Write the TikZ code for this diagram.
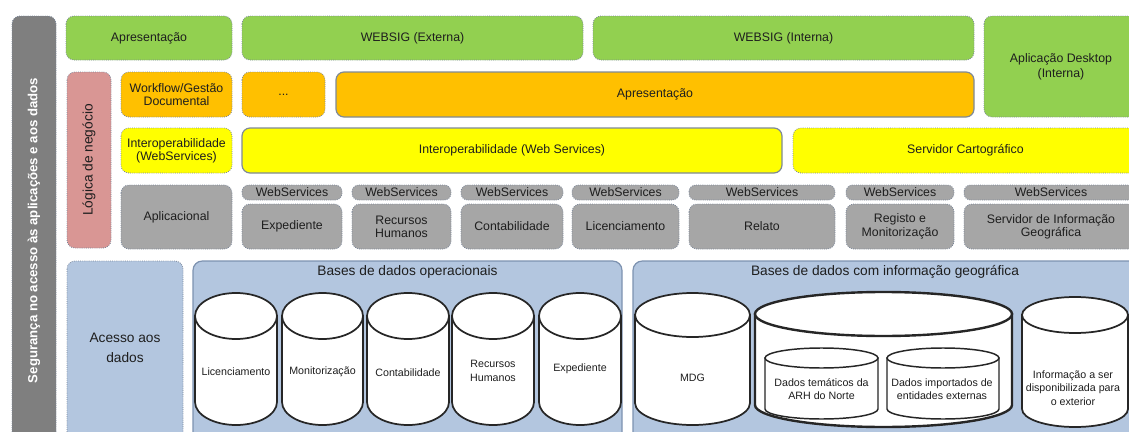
\documentclass[tikz,border=0pt]{standalone}
\usepackage{fontspec}
\setmainfont{Liberation Sans}
\usepackage{tikz}

\definecolor{grnfill}{HTML}{92D050}
\definecolor{orgfill}{HTML}{FFC000}
\definecolor{ylwfill}{HTML}{FFFF00}
\definecolor{gryfill}{HTML}{A6A6A6}
\definecolor{darkbar}{HTML}{7F7F7F}
\definecolor{pinkfill}{HTML}{D99694}
\definecolor{bluefill}{HTML}{B3C6DF}
\definecolor{blueline}{HTML}{7D92B0}
\definecolor{dotline}{HTML}{7A8699}
\definecolor{solidline}{HTML}{7F8A96}
\definecolor{txt}{HTML}{1E1E1E}
\definecolor{cylline}{HTML}{262626}

\tikzset{
  blk/.style={draw=dotline, densely dotted, line width=0.6pt, rounded corners=6pt},
  solidblk/.style={draw=solidline, solid, line width=0.9pt, rounded corners=6pt},
  pill/.style={blk, fill=gryfill, rounded corners=5pt},
  lbl/.style={font=\fontsize{9.25}{10}\selectfont, text=txt, align=center, inner sep=0pt},
  biglbl/.style={font=\fontsize{10.3}{15}\selectfont, text=txt, align=center, inner sep=0pt},
  small/.style={font=\fontsize{8}{10}\selectfont, text=txt, align=center, inner sep=0pt},
  cyl/.style={draw=cylline, fill=white, line width=1.3pt},
  bigcyl/.style={draw=cylline, fill=white, line width=1.8pt},
  innercyl/.style={draw=cylline, fill=white, line width=1.1pt}
}

\begin{document}
\begin{tikzpicture}[x=0.75pt, y=-0.75pt]
\useasboundingbox (0,0) rectangle (1129,432);
\clip (0,0) rectangle (1129,432);

% seguranca
\draw[blk, fill=darkbar] (12,16) rectangle (56,445) node[midway, rotate=90, font=\fontsize{9.9}{12}\bfseries, text=white] (seg) {Segurança no acesso às aplicações e aos dados};

% apresentacao
\draw[blk, fill=grnfill] (66,16) rectangle (232,60) node[midway, lbl] (apres) {Apresentação};
\draw[blk, fill=grnfill] (242,16) rectangle (583,60) node[midway, lbl] (wsExt) {WEBSIG (Externa)};
\draw[blk, fill=grnfill] (593,16) rectangle (974,60) node[midway, lbl] (wsInt) {WEBSIG (Interna)};
\draw[blk, fill=grnfill] (984,16) rectangle (1138,117) node[midway, lbl, font=\fontsize{9.25}{11.5}\selectfont] (desk) {Aplicação Desktop\\(Interna)};

% logica de negocio
\draw[blk, fill=pinkfill] (67,72) rectangle (111,248) node[midway, rotate=90, biglbl] (logica) {Lógica de negócio};
\draw[blk, fill=orgfill] (121,72) rectangle (232,117) node[midway, lbl] (workflow) {Workflow/Gestão\\Documental};
\draw[blk, fill=orgfill] (242,72) rectangle (325,117) node[midway, lbl] (dots) {...};
\draw[solidblk, fill=orgfill] (336,72) rectangle (974,117) node[midway, lbl] (apresB) {Apresentação};

\draw[blk, fill=ylwfill] (121,128) rectangle (232,173) node[midway, lbl] (interopA) {Interoperabilidade\\(WebServices)};
\draw[solidblk, fill=ylwfill] (242,128) rectangle (782,173) node[midway, lbl] (interopB) {Interoperabilidade (Web Services)};
\draw[blk, fill=ylwfill] (793,128) rectangle (1138,173) node[midway, lbl] (servCart) {Servidor Cartográfico};

\draw[blk, fill=gryfill] (121,185) rectangle (232,249) node[midway, lbl] (aplic) {Aplicacional};

\draw[pill] (242,185) rectangle (342,200) node[midway, lbl] (wsA) {WebServices};
\draw[pill] (352,185) rectangle (451,200) node[midway, lbl] (wsB) {WebServices};
\draw[pill] (461,185) rectangle (563,200) node[midway, lbl] (wsC) {WebServices};
\draw[pill] (572,185) rectangle (679,200) node[midway, lbl] (wsD) {WebServices};
\draw[pill] (689,185) rectangle (835,200) node[midway, lbl] (wsE) {WebServices};
\draw[pill] (846,185) rectangle (954,200) node[midway, lbl] (wsF) {WebServices};
\draw[pill] (964,185) rectangle (1138,200) node[midway, lbl] (wsG) {WebServices};

\draw[blk, fill=gryfill] (242,204) rectangle (342,249) node[midway, lbl] (expA) {Expediente};
\draw[blk, fill=gryfill] (352,204) rectangle (451,249) node[midway, lbl] (rhA) {Recursos\\Humanos};
\draw[blk, fill=gryfill] (461,204) rectangle (563,249) node[midway, lbl] (contA) {Contabilidade};
\draw[blk, fill=gryfill] (572,204) rectangle (679,249) node[midway, lbl] (licA) {Licenciamento};
\draw[blk, fill=gryfill] (689,204) rectangle (835,249) node[midway, lbl] (relato) {Relato};
\draw[blk, fill=gryfill] (846,204) rectangle (954,249) node[midway, lbl] (registo) {Registo e\\Monitorização};
\draw[blk, fill=gryfill] (964,204) rectangle (1138,249) node[midway, lbl] (sig) {Servidor de Informação\\Geográfica};

% dados
\draw[blk, fill=bluefill] (67,261) rectangle (183,445);
\node[biglbl] (acesso) at (125,348) {Acesso aos\\dados};
\draw[draw=blueline, line width=0.9pt, rounded corners=7pt, fill=bluefill] (193,261) rectangle (622,445);
\node[biglbl] (opsTitle) at (407.5,272) {Bases de dados operacionais};
\draw[draw=blueline, line width=0.9pt, rounded corners=7pt, fill=bluefill] (633,261) rectangle (1138,445);
\node[biglbl] (geoTitle) at (885,272) {Bases de dados com informação geográfica};

% bases operacionais
\filldraw[cyl] (195,316) -- (195,402) arc[start angle=180, end angle=0, x radius=41, y radius=23] -- (277,316) -- cycle;
\filldraw[cyl] (236,316) ellipse[x radius=41, y radius=23];
\node[small] (dbLic) at (236,372) {Licenciamento};

\filldraw[cyl] (282,316) -- (282,402) arc[start angle=180, end angle=0, x radius=40.5, y radius=23] -- (363,316) -- cycle;
\filldraw[cyl] (322.5,316) ellipse[x radius=40.5, y radius=23];
\node[small] (dbMon) at (322.5,372) {Monitorização};

\filldraw[cyl] (367,316) -- (367,402) arc[start angle=180, end angle=0, x radius=41, y radius=23] -- (449,316) -- cycle;
\filldraw[cyl] (408,316) ellipse[x radius=41, y radius=23];
\node[small] (dbCont) at (408,373) {Contabilidade};

\filldraw[cyl] (452,316) -- (452,402) arc[start angle=180, end angle=0, x radius=41, y radius=23] -- (534,316) -- cycle;
\filldraw[cyl] (493,316) ellipse[x radius=41, y radius=23];
\node[small] (dbRH) at (493,371) {Recursos\\Humanos};

\filldraw[cyl] (539,316) -- (539,402) arc[start angle=180, end angle=0, x radius=41, y radius=23] -- (621,316) -- cycle;
\filldraw[cyl] (580,316) ellipse[x radius=41, y radius=23];
\node[small] (dbExp) at (580,369) {Expediente};

% bases geograficas
\filldraw[cyl] (635,315) -- (635,403) arc[start angle=180, end angle=0, x radius=57.5, y radius=22] -- (750,315) -- cycle;
\filldraw[cyl] (692.5,315) ellipse[x radius=57.5, y radius=22];
\node[small] (dbMDG) at (692.5,378) {MDG};

\filldraw[bigcyl] (755,314) -- (755,405) arc[start angle=180, end angle=0, x radius=128.5, y radius=22] -- (1012,314) -- cycle;
\filldraw[bigcyl] (883.5,314) ellipse[x radius=128.5, y radius=22];

\filldraw[innercyl] (765,358) -- (765,409) arc[start angle=180, end angle=0, x radius=56.5, y radius=10] -- (878,358) -- cycle;
\filldraw[innercyl] (821.5,358) ellipse[x radius=56.5, y radius=10];
\node[small] (dbTem) at (821.5,389) {Dados temáticos da\\ARH do Norte};

\filldraw[innercyl] (887,358) -- (887,409) arc[start angle=180, end angle=0, x radius=56, y radius=10] -- (999,358) -- cycle;
\filldraw[innercyl] (943,358) ellipse[x radius=56, y radius=10];
\node[small] (dbImp) at (942,389) {Dados importados de\\entidades externas};

\filldraw[cyl] (1022,315) -- (1022,409) arc[start angle=180, end angle=0, x radius=53, y radius=18] -- (1128,315) -- cycle;
\filldraw[cyl] (1075,315) ellipse[x radius=53, y radius=18];
\node[small] (dbExt) at (1073,388) {Informação a ser\\disponibilizada para\\o exterior};
\end{tikzpicture}
\end{document}
